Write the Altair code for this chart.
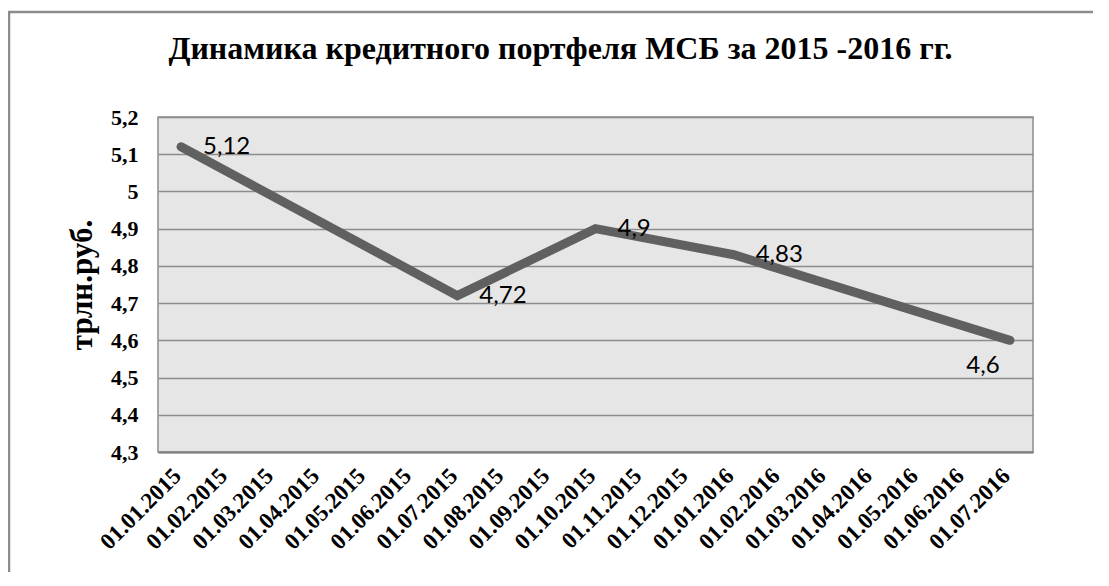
import altair as alt
import pandas as pd

# x-axis categories (monthly)
months = [
    "01.01.2015", "01.02.2015", "01.03.2015", "01.04.2015", "01.05.2015",
    "01.06.2015", "01.07.2015", "01.08.2015", "01.09.2015", "01.10.2015",
    "01.11.2015", "01.12.2015", "01.01.2016", "01.02.2016", "01.03.2016",
    "01.04.2016", "01.05.2016", "01.06.2016", "01.07.2016",
]
# observed points
point_dates = ["01.01.2015", "01.07.2015", "01.10.2015", "01.01.2016", "01.07.2016"]
point_values = [5.12, 4.72, 4.90, 4.83, 4.60]
y_ticks = [4.3, 4.4, 4.5, 4.6, 4.7, 4.8, 4.9, 5.0, 5.1, 5.2]

df = pd.DataFrame({
    "date": point_dates,
    "value": point_values,
    "label": [("%g" % v).replace(".", ",") for v in point_values],
})

serif = "Liberation Serif"
sans = "Lato"

x_enc = alt.X(
    "date:O",
    scale=alt.Scale(domain=months, paddingInner=0, paddingOuter=0),
    axis=alt.Axis(title=None),
)
y_enc = alt.Y(
    "value:Q",
    scale=alt.Scale(domain=[4.3, 5.2], nice=False, zero=False),
    axis=alt.Axis(
        title="трлн.руб.", values=y_ticks,
        labelExpr="replace(format(datum.value, '.1~f'), '.', ',')",
    ),
)

base = alt.Chart(df)

line = base.mark_line(
    color="#606060", strokeWidth=9, strokeCap="round", strokeJoin="miter"
).encode(x=x_enc, y=y_enc)

labels_right = base.transform_filter(
    alt.datum.date != "01.07.2016"
).mark_text(
    align="left", baseline="middle", dx=22, font=sans, fontSize=24, color="black"
).encode(x=x_enc, y=y_enc, text="label:N")

labels_below = base.transform_filter(
    alt.datum.date == "01.07.2016"
).mark_text(
    align="center", baseline="middle", dx=-27, dy=26, font=sans, fontSize=24, color="black"
).encode(x=x_enc, y=y_enc, text="label:N")

frame = alt.Chart(pd.DataFrame({"f": [0]})).mark_rect(
    fill="transparent", stroke="#8c8c8c", strokeWidth=2.5
).encode(
    x=alt.value(-149), x2=alt.value(1300), y=alt.value(-105), y2=alt.value(700)
)

chart = alt.layer(frame, line, labels_right, labels_below).properties(
    width=875, height=335,
    title=alt.TitleParams(
        "Динамика кредитного портфеля МСБ за 2015 -2016 гг.",
        font=serif, fontSize=32, fontWeight="bold", color="black",
        anchor="middle", frame="group", dx=-35, offset=-80, baseline="alphabetic",
    ),
    autosize=alt.AutoSizeParams(type="none"),
    padding={"left": 150, "top": 109, "right": 60, "bottom": 120},
).configure_view(
    fill="#e6e6e6", stroke="#8c8c8c", strokeWidth=1.5
).configure_axisX(
    labelAngle=-45, labelAlign="right", labelBaseline="middle",
    labelFont=serif, labelFontSize=23, labelFontWeight="bold", labelColor="black",
    labelPadding=20, labelOffset=-4, ticks=False, domainColor="#808080", domainWidth=2,
    grid=False, labelOverlap=False,
).configure_axisY(
    labelFont=serif, labelFontSize=22, labelFontWeight="bold", labelColor="black",
    labelPadding=20, ticks=False, domain=False, labelOverlap=False,
    titleFont=serif, titleFontSize=31, titleFontWeight="bold", titleColor="black",
    titlePadding=12, grid=True, gridColor="#8c8c8c", gridWidth=1.5,
)

chart.save("out.html", embed_options={"renderer": "svg", "actions": False})
